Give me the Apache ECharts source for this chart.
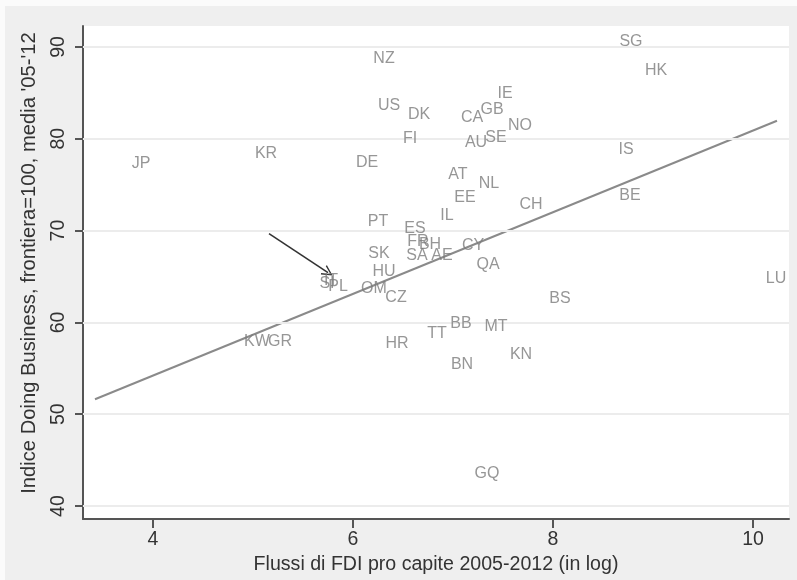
<!DOCTYPE html>
<html>
<head>
<meta charset="utf-8">
<script src="https://cdn.jsdelivr.net/npm/echarts@6/dist/echarts.min.js"></script>
<style>
html,body{margin:0;padding:0;background:#fff;}
#c{width:797px;height:580px;}
</style>
</head>
<body>
<div id="c"></div>
<script>
// Country codes and values (x: log FDI per capita, y: Doing Business index)
const codes = ['SG','HK','NZ','IE','US','DK','GB','CA','NO','FI','AU','SE','IS','JP','KR','DE','AT','NL','EE','BE','CH','IL','PT','ES','FR','BH','CY','SK','SA','AE','QA','HU','IT','SI','PL','OM','CZ','LU','BS','BB','MT','TT','HR','KW','GR','KN','BN','GQ'];
const fdiLog = [8.78,9.03,6.31,7.52,6.36,6.66,7.39,7.19,7.67,6.57,7.23,7.43,8.73,3.88,5.13,6.14,7.05,7.36,7.12,8.77,7.78,6.94,6.25,6.62,6.65,6.77,7.20,6.26,6.64,6.89,7.35,6.31,5.78,5.74,5.85,6.21,6.43,10.23,8.07,7.08,7.43,6.84,6.44,5.04,5.27,7.68,7.09,7.34];
const dbIndex = [90.76,87.61,88.91,85.11,83.80,82.83,83.37,82.50,81.63,80.22,79.78,80.33,79.02,77.50,78.59,77.61,76.30,75.33,73.80,74.02,73.04,71.85,71.20,70.43,69.02,68.70,68.59,67.72,67.50,67.50,66.52,65.76,64.78,64.46,64.13,63.91,62.93,65.00,62.83,60.11,59.78,59.02,57.93,58.15,58.15,56.74,55.65,43.80];

// Fitted line endpoints
const fitX = [3.42, 10.24];
const fitY = [51.63, 81.96];

// Arrow (start, end)
const arrowFrom = [5.16, 69.67];
const arrowTo = [5.75, 65.43];

// Tick labels
const xTicks = [4, 6, 8, 10];
const yTicks = [40, 50, 60, 70, 80, 90];

const FONT = '"Liberation Sans", Arial, Helvetica, sans-serif';

const chart = echarts.init(document.getElementById('c'), null, {renderer: 'canvas'});

const scatterData = codes.map((c, i) => [fdiLog[i], dbIndex[i], c]);
const fitData = fitX.map((x, i) => [x, fitY[i]]);

const option = {
  backgroundColor: '#efefef',
  animation: false,
  graphic: [
    {type: 'rect', shape: {x: 0, y: 0, width: 797, height: 6}, style: {fill: '#fbfbfb'}, silent: true, z: -10},
    {type: 'rect', shape: {x: 0, y: 0, width: 5, height: 580}, style: {fill: '#fbfbfb'}, silent: true, z: -10}
  ],
  grid: {
    left: 83, right: 8, top: 26, bottom: 60,
    show: true, backgroundColor: '#ffffff', borderWidth: 0
  },
  xAxis: {
    type: 'value',
    min: 3.30, max: 10.36,
    name: 'Flussi di FDI pro capite 2005-2012 (in log)',
    nameLocation: 'middle',
    nameGap: 36,
    nameTextStyle: {fontFamily: FONT, fontSize: 19.6, color: '#333'},
    axisLine: {show: true, onZero: false, lineStyle: {color: '#555', width: 2}},
    axisTick: {show: true, length: 9, customValues: xTicks, lineStyle: {color: '#555', width: 2}},
    axisLabel: {customValues: xTicks, margin: 11, fontFamily: FONT, fontSize: 19.5, color: '#333'},
    splitLine: {show: false}
  },
  yAxis: {
    type: 'value',
    min: 38.59, max: 92.28,
    name: "Indice Doing Business, frontiera=100, media '05-'12",
    nameLocation: 'middle',
    nameGap: 44,
    nameTextStyle: {fontFamily: FONT, fontSize: 20.2, color: '#333', padding: [0, 0, 0, 19]},
    axisLine: {show: true, onZero: false, lineStyle: {color: '#555', width: 2}},
    axisTick: {show: true, length: 8, customValues: yTicks, lineStyle: {color: '#555', width: 2}},
    axisLabel: {customValues: yTicks, rotate: 90, margin: 14, fontFamily: FONT, fontSize: 19.5, color: '#333'},
    splitLine: {show: false}
  },
  series: [
    {
      type: 'line',
      data: [],
      silent: true,
      z: 1,
      markLine: {
        silent: true,
        symbol: ['none', 'none'],
        label: {show: false},
        lineStyle: {color: '#ececec', width: 2, type: 'solid'},
        data: yTicks.map(v => ({yAxis: v}))
      }
    },
    {
      type: 'line',
      data: fitData,
      showSymbol: false,
      symbol: 'none',
      silent: true,
      z: 3,
      lineStyle: {color: '#8a8a8a', width: 2}
    },
    {
      type: 'lines',
      coordinateSystem: 'cartesian2d',
      silent: true,
      z: 4,
      symbol: ['none', 'path://M0,10 L5,0 L10,10 L8.8,10.6 L5,2.6 L1.2,10.6 Z'],
      symbolSize: 11,
      lineStyle: {color: '#333', width: 1.6, opacity: 1},
      data: [{coords: [arrowFrom, arrowTo]}]
    },
    {
      type: 'scatter',
      data: scatterData,
      symbolSize: 1,
      itemStyle: {color: 'rgba(0,0,0,0)'},
      silent: true,
      z: 5,
      label: {
        show: true,
        position: 'inside',
        offset: [0, 2],
        formatter: p => p.data[2],
        fontFamily: FONT,
        fontSize: 16,
        color: '#7c7c7c'
      }
    }
  ]
};

chart.setOption(option);
</script>
</body>
</html>
